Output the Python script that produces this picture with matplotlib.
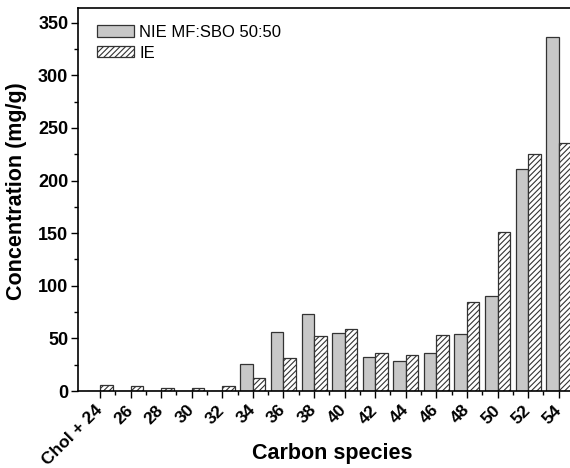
import numpy as np
import matplotlib.pyplot as plt
from matplotlib.ticker import MultipleLocator

plt.rcParams["font.family"] = ["Liberation Sans", "DejaVu Sans"]
plt.rcParams["hatch.linewidth"] = 0.8

# datos
species = ["Chol + 24", "26", "28", "30", "32", "34", "36", "38", "40",
           "42", "44", "46", "48", "50", "52", "54"]
nie = [0, 0, 0, 0, 0, 26, 56, 73, 55, 32, 28.5, 36.5, 54.5, 90, 211, 336]
ie = [6, 5, 2.5, 2.5, 5, 12, 31, 52.5, 58.5, 36, 34, 53, 85, 151, 225, 236]

x = np.arange(len(species))
w = 0.41

fig = plt.figure(figsize=(5.7, 4.68), dpi=100)
ax = fig.add_axes([78 / 570, 77 / 468, 499 / 570, 383 / 468])

ax.bar(x - w / 2, nie, w, color="#c8c8c8", edgecolor="#333333", lw=0.9,
       label="NIE MF:SBO 50:50")
ax.bar(x + w / 2, ie, w, color="white", edgecolor="#333333", lw=0.9,
       hatch="//////", label="IE")

ax.set_xlim(-0.72, 15.6)
ax.set_ylim(0, 364)
ax.yaxis.set_major_locator(MultipleLocator(50))
ax.yaxis.set_minor_locator(MultipleLocator(25))
ax.set_xticks(x)
ax.set_xticks(x[:-1] + 0.5, minor=True)
ax.set_xticklabels(species, rotation=45, ha="right", va="center",
                   rotation_mode="anchor", fontsize=12.5, fontweight="bold")
for lab in ax.get_yticklabels():
    lab.set_fontweight("bold")
    lab.set_fontsize(13)

ax.tick_params(which="major", direction="out", length=5, width=1)
ax.tick_params(which="minor", direction="out", length=3, width=1)
ax.tick_params(axis="x", which="major", pad=7)
ax.tick_params(axis="y", which="major", pad=2)
ax.tick_params(top=False, right=False)
for s in ax.spines.values():
    s.set_linewidth(1.2)

ax.set_xlabel("Carbon species", fontsize=15.5, fontweight="bold")
ax.xaxis.set_label_coords(0.509, -0.136)
ax.set_ylabel("Concentration (mg/g)", fontsize=15.5, fontweight="bold")
ax.yaxis.set_label_coords(-0.102, 0.522)

ax.legend(loc="upper left", bbox_to_anchor=(0.038, 0.956), frameon=False,
          fontsize=12, handlelength=2.2, handleheight=0.66, borderaxespad=0,
          borderpad=0, labelspacing=0.35, handletextpad=0.35)

fig.savefig("out.png", dpi=100)
